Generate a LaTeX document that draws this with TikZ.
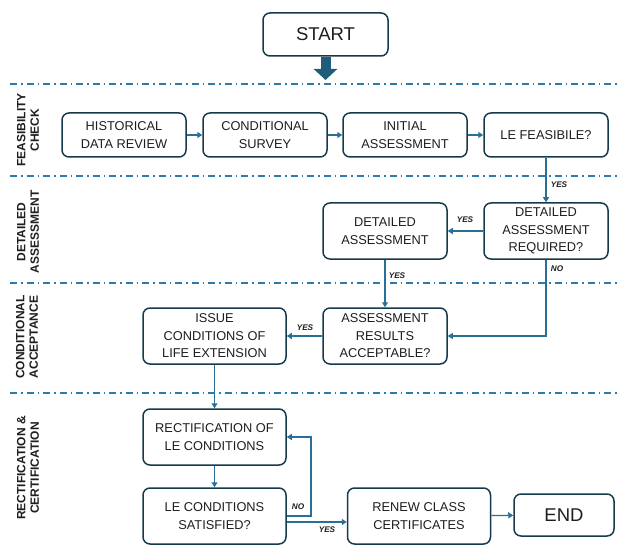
\documentclass[tikz,border=0pt]{standalone}
\usepackage{fontspec}
\setmainfont{Liberation Sans}
\usetikzlibrary{arrows.meta}
\definecolor{boxline}{HTML}{163A4C}
\definecolor{conn}{HTML}{2A6F97}
\definecolor{lanec}{HTML}{2E7BAB}
\definecolor{bigarrow}{HTML}{1F5C7A}
\definecolor{txt}{HTML}{1E1E1E}
\tikzset{
  box/.style={draw=boxline, line width=1.5pt, rounded corners=7pt, fill=white,
    align=center, text=txt, font=\fontsize{12.8}{17.5}\selectfont, inner sep=2pt},
  conn/.style={draw=conn, line width=1.3pt, -{Triangle[length=5pt,width=6pt]}},
  lane/.style={draw=lanec, line width=1.3pt, dash pattern=on 7pt off 4pt on 1.5pt off 4pt},
  lanelabel/.style={rotate=90, align=center, text=txt, font=\bfseries\fontsize{12}{13.5}\selectfont},
  yn/.style={text=txt, font=\bfseries\itshape\fontsize{8.2}{9}\selectfont, inner sep=1pt}
}
\begin{document}
\begin{tikzpicture}[x=1pt,y=-1pt]
\useasboundingbox (0,0) rectangle (620,545);
% lanes
\draw[lane] (10,84) -- (620,84);
\draw[lane] (10,176) -- (620,176);
\draw[lane] (10,283) -- (620,283);
\draw[lane] (10,393) -- (620,393);
\node[lanelabel] (l1) at (28,130) {FEASIBILITY\\CHECK};
\node[lanelabel] (l2) at (28,232) {DETAILED\\ASSESSMENT};
\node[lanelabel] (l3) at (27,337) {CONDITIONAL\\ACCEPTANCE};
\node[lanelabel] (l4) at (28,468) {RECTIFICATION \&\\CERTIFICATION};
% start
\node[box, minimum width=125pt, minimum height=43pt, font=\fontsize{18.5}{20}\selectfont] (start) at (325.5,34.5) {START};
\coordinate (sa) at (325.5,80);
\draw[bigarrow, line width=10pt, -{Triangle[length=11pt,width=23pt]}] (start.south) -- (sa);
% row 1
\node[box, minimum width=124pt, minimum height=44pt] (hist) at (124,135) {HISTORICAL\\DATA REVIEW};
\node[box, minimum width=124pt, minimum height=44pt] (surv) at (265,135) {CONDITIONAL\\SURVEY};
\node[box, minimum width=124pt, minimum height=44pt] (init) at (405,135) {INITIAL\\ASSESSMENT};
\node[box, minimum width=124pt, minimum height=44pt] (feas) at (546,135) {LE FEASIBILE?};
% row 2
\node[box, minimum width=124pt, minimum height=56pt] (det) at (385,231) {DETAILED\\ASSESSMENT};
\node[box, minimum width=124pt, minimum height=56pt] (req) at (546,231) {DETAILED\\ASSESSMENT\\REQUIRED?};
% row 3
\node[box, minimum width=143pt, minimum height=56pt] (iss) at (214.5,336) {ISSUE\\CONDITIONS OF\\LIFE EXTENSION};
\node[box, minimum width=124pt, minimum height=56pt] (res) at (385,336) {ASSESSMENT\\RESULTS\\ACCEPTABLE?};
% row 4
\node[box, minimum width=143pt, minimum height=56pt] (rect) at (214.5,437) {RECTIFICATION OF\\LE CONDITIONS};
\node[box, minimum width=143pt, minimum height=56pt] (sat) at (214.5,516) {LE CONDITIONS\\SATISFIED?};
\node[box, minimum width=143pt, minimum height=56pt] (renew) at (419,516) {RENEW CLASS\\CERTIFICATES};
\node[box, minimum width=100pt, minimum height=42pt, font=\fontsize{18.5}{20}\selectfont] (end) at (564,515) {END};
% connectors
\draw[conn] (hist) -- (surv);
\draw[conn] (surv) -- (init);
\draw[conn] (init) -- (feas);
\draw[conn] (feas) -- (req);
\draw[conn] (req) -- (det);
\draw[conn] (det) -- (res);
\draw[conn] (req.south) |- (res.east);
\draw[conn] (res) -- (iss);
\draw[conn] (iss) -- (rect);
\draw[conn] (rect) -- (sat);
\coordinate (nob) at (311,516);
\draw[conn] (sat.east) -- (nob) |- (rect.east);
\draw[conn] ([yshift=-6pt]sat.east) -- ([yshift=-6pt]renew.west);
\draw[conn] (renew) -- (end);
% labels
\node[yn] (y1) at (559,185) {YES};
\node[yn] (y2) at (465,220) {YES};
\node[yn] (y3) at (397,276) {YES};
\node[yn] (n1) at (557,269) {NO};
\node[yn] (y4) at (305,328) {YES};
\node[yn] (n2) at (298,507) {NO};
\node[yn] (y5) at (327,530) {YES};
\end{tikzpicture}
\end{document}
